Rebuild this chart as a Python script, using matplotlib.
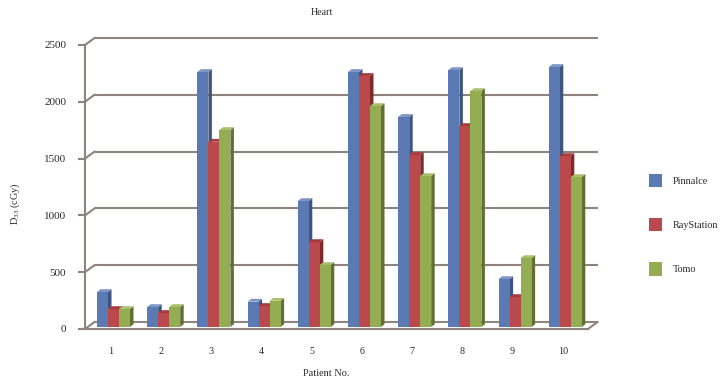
import matplotlib
matplotlib.use("Agg")
import matplotlib.pyplot as plt
from matplotlib.patches import Patch

patients = [1, 2, 3, 4, 5, 6, 7, 8, 9, 10]
pinnacle = [308, 176, 2245, 223, 1109, 2245, 1849, 2262, 422, 2289]
raystation = [158, 123, 1631, 185, 748, 2210, 1514, 1769, 264, 1505]
tomo = [158, 176, 1734, 231, 546, 1945, 1329, 2077, 607, 1320]
y_ticks = [0, 500, 1000, 1500, 2000, 2500]

plt.rcParams['font.family'] = ['Liberation Serif', 'DejaVu Serif']
plt.rcParams['mathtext.fontset'] = 'custom'
plt.rcParams['mathtext.rm'] = 'Liberation Serif'
plt.rcParams['mathtext.it'] = 'Liberation Serif'

W, H = 720, 383
fig = plt.figure(figsize=(W / 100, H / 100), dpi=100)
L, R, T, B = 85, 588, 45, 329
ax = fig.add_axes([L / W, 1 - B / H, (R - L) / W, (B - T) / H])

PX_X = 50.2
PX_Y = (B - T) / 2500
ax.set_xlim(1 + (L - 113.5) / PX_X, 1 + (R - 113.5) / PX_X)
ax.set_ylim(0, 2500)

GRID = '#8f847c'
LW = 1.5
wall_dx, wall_dy = 9.5 / PX_X, 7 / PX_Y
x0, x1 = ax.get_xlim()
for v in y_ticks:
    ax.plot([x0 + wall_dx, x1 + wall_dx], [v + wall_dy] * 2, color=GRID, lw=LW, clip_on=False, zorder=1,
            solid_capstyle='butt')
    ax.plot([x0, x0 + wall_dx], [v, v + wall_dy], color=GRID, lw=LW, clip_on=False, zorder=1)
ax.plot([x1, x1 + wall_dx], [0, wall_dy], color=GRID, lw=LW, clip_on=False, zorder=1)

series = [
    ('Pinnalce', pinnacle, '#5b79b2', '#3f5580', '#7c95c4'),
    ('RayStation', raystation, '#b9494c', '#7c2a2a', '#a83a3a'),
    ('Tomo', tomo, '#94ad52', '#626f32', '#a9bf70'),
]
bw = 11 / PX_X
base = 2 / PX_Y
dx, dy = 3.5 / PX_X, 2.8 / PX_Y

z = 3
for i, p in enumerate(patients):
    for j, (name, vals, front, side, top) in enumerate(series):
        left = p + (j - 1.5) * bw
        right = left + bw
        h = vals[i] + base
        ax.fill([right, right + dx, right + dx, right], [base, base + dy, h + dy, h],
                color=side, lw=0, zorder=z, clip_on=False)
        ax.fill([left, left + dx, right + dx, right], [h, h + dy, h + dy, h],
                color=top, lw=0, zorder=z, clip_on=False)
        ax.bar(left, vals[i], width=bw, bottom=base, align='edge', color=front, lw=0, zorder=z + 0.5)
        z += 1

for s in ['top', 'right']:
    ax.spines[s].set_visible(False)
for s in ['left', 'bottom']:
    ax.spines[s].set_color(GRID)
    ax.spines[s].set_linewidth(LW)
    ax.spines[s].set_zorder(2)

ax.set_yticks(y_ticks)
ax.set_xticks([p - 0.05 for p in patients])
ax.set_xticklabels(patients)
ax.tick_params(axis='y', length=5, width=LW, color=GRID, pad=8.5, labelsize=8, labelcolor='#2a2a2a')
ax.tick_params(axis='x', length=0, pad=13, labelsize=7.3, labelcolor='#2a2a2a')

fig.text(322 / W, 1 - 12.5 / H, 'Heart', ha='center', va='center', fontsize=7.2, color='#2a2a2a')
fig.text(326 / W, 1 - 373 / H, 'Patient No.', ha='center', va='center', fontsize=7.4, color='#2a2a2a')
fig.text(15 / W, 1 - 204 / H, r'D$_{33}$ (cGy)', rotation=90, ha='center', va='center', fontsize=7.4, color='#2a2a2a')

handles = [Patch(facecolor=s[2], edgecolor='none', label=s[0]) for s in series]
leg = fig.legend(handles=handles, loc='upper left', bbox_to_anchor=(646.5 / W, 1 - 171.5 / H), frameon=False,
                 fontsize=7.3, labelcolor='#2a2a2a', handlelength=1.32, handleheight=1.66, handletextpad=1.05,
                 labelspacing=3.05, borderaxespad=0, borderpad=0.2)

fig.savefig('out.png', dpi=100, facecolor='white')
